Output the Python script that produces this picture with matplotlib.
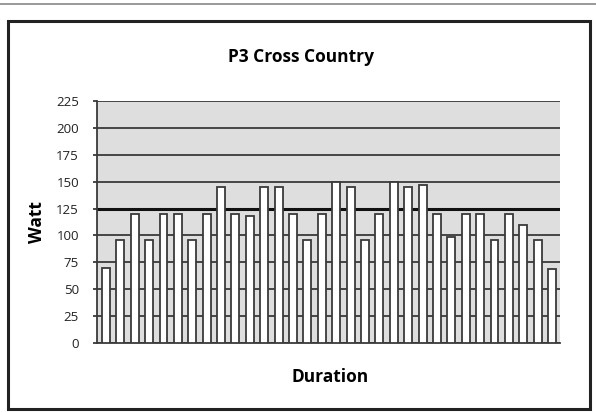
import matplotlib.pyplot as plt
from matplotlib.patches import Rectangle
from matplotlib.lines import Line2D

# one bar per interval of the ride
watts = [70, 96, 120, 96, 120, 120, 96, 120, 145, 120, 118, 145, 145, 120, 96, 120,
         150, 145, 96, 120, 150, 145, 147, 120, 99, 120, 120, 96, 120, 110, 96, 69]
yticks = [0, 25, 50, 75, 100, 125, 150, 175, 200, 225]

W, H = 596, 412
fig = plt.figure(figsize=(W / 100, H / 100), dpi=100)
plt.rcParams['font.family'] = ['Open Sans', 'DejaVu Sans']

# outer frame and thin line at the very top
fig.add_artist(Line2D([0, 1], [1 - 4 / H, 1 - 4 / H], color="#888888", lw=1.2))
fig.add_artist(Rectangle((8 / W, 3 / H), 582 / W, 388 / H, fill=False,
                         edgecolor="#222222", lw=2.2, transform=fig.transFigure))

ax = fig.add_axes([97 / W, 69 / H, 463 / W, 242 / H])
ax.set_facecolor("#dedede")
x = list(range(len(watts)))
ax.bar(x, watts, width=0.55, color="white", edgecolor="#3a3a3a", lw=1.3, zorder=3)

ax.set_ylim(0, 225)
ax.set_xlim(-0.62, len(watts) - 0.45)
ax.set_yticks(yticks)
for t in yticks:
    ax.axhline(t, color="#111111" if t == 125 else "#3a3a3a",
               lw=2.2 if t == 125 else 1.3, zorder=1)
ax.set_xticks([])
for s in ["top", "right"]:
    ax.spines[s].set_visible(False)
ax.spines["left"].set_color("#3a3a3a")
ax.spines["left"].set_linewidth(1.3)
ax.spines["bottom"].set_color("#3a3a3a")
ax.spines["bottom"].set_linewidth(1.3)
ax.tick_params(axis="y", length=3, width=1.3, color="#3a3a3a", pad=10,
               labelsize=9.5, labelcolor="#222222")

fig.text(301 / W, 1 - 57 / H, "P3 Cross Country", ha="center", va="center",
         fontsize=12.5, fontweight="bold")
fig.text(330 / W, 1 - 377 / H, "Duration", ha="center", va="center",
         fontsize=12.5, fontweight="bold")
fig.text(37 / W, 1 - 222 / H, "Watt", ha="center", va="center", rotation=90,
         fontsize=12.5, fontweight="bold")

fig.savefig("out.png", dpi=100)
